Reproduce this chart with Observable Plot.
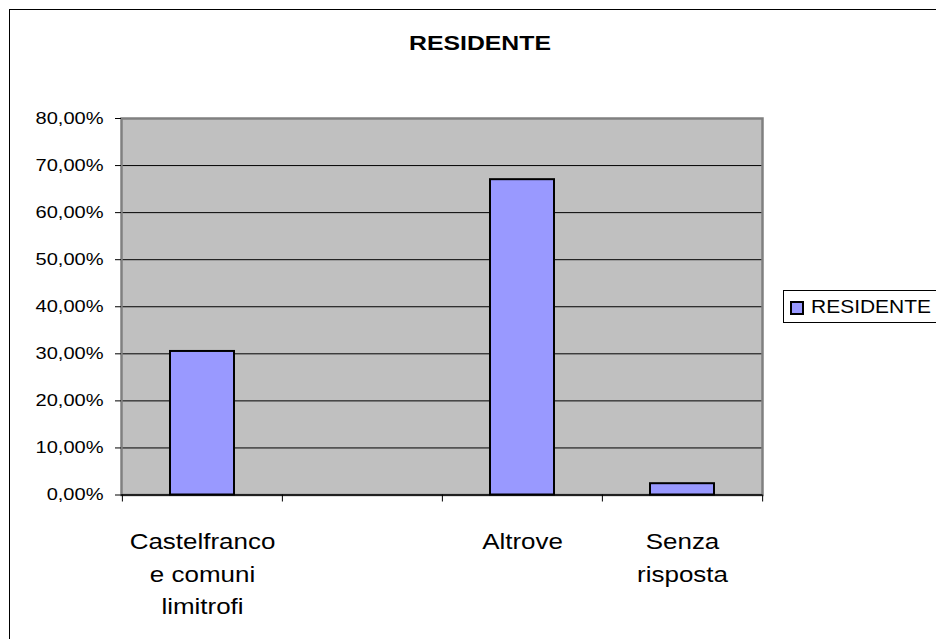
<!DOCTYPE html>
<html>
<head>
<meta charset="utf-8">
<script src="https://cdn.jsdelivr.net/npm/d3@7"></script>
<script src="https://cdn.jsdelivr.net/npm/@observablehq/plot@0.6"></script>
<style>
  html, body { margin: 0; padding: 0; background: #fff; overflow: hidden; }
  #wrap { position: relative; width: 936px; height: 639px; overflow: hidden; font-family: Arial, "Liberation Sans", sans-serif; }
  #border { position: absolute; left: 9px; top: 8.5px; width: 1200px; height: 1200px; border: 1.5px solid #000; box-sizing: border-box; }
  #chart { position: absolute; left: 0; top: 0; }
  #title { position: absolute; left: 479.7px; top: 31.5px; font-size: 21px; line-height: 21px; font-weight: bold; white-space: nowrap; transform: translateX(-50%) scaleX(1.18); color: #000; }
  #legend { position: absolute; left: 783px; top: 290px; width: 160px; height: 33px; border: 1px solid #000; box-sizing: border-box; background: #fff; }
  #legend .sw { position: absolute; left: 6px; top: 10px; width: 14px; height: 14px; background: #9999FF; border: 2px solid #000; box-sizing: border-box; }
  #legend .lb { position: absolute; left: 27px; top: 6px; font-size: 17.8px; line-height: 20px; white-space: nowrap; transform-origin: left center; transform: scaleX(1.18); color: #000; }
</style>
</head>
<body>
<div id="wrap">
  <div id="border"></div>
  <div id="chart"></div>
  <div id="title">RESIDENTE</div>
  <div id="legend"><div class="sw"></div><div class="lb">RESIDENTE</div></div>
</div>
<script>
// ---- data ----
const categories = ["Castelfranco\ne comuni\nlimitrofi", " ", "Altrove", "Senza\nrisposta"];
const values = [0.305, null, 0.67, 0.024];
const seriesName = "RESIDENTE";
const yTicks = [0, 0.1, 0.2, 0.3, 0.4, 0.5, 0.6, 0.7, 0.8];

const data = categories.map((c, i) => ({cat: c, value: values[i]})).filter(d => d.value != null);

const locale = d3.formatLocale({decimal: ",", thousands: ".", grouping: [3], currency: ["", "€"]});
const pct = locale.format(".2%");

const W = 936, H = 639;
const mL = 121, mR = 174, mT = 118, mB = 144.5;
const step = (W - mL - mR) / 4;

const chart = Plot.plot({
  width: W,
  height: H,
  marginLeft: mL,
  marginRight: mR,
  marginTop: mT,
  marginBottom: mB,
  style: {fontFamily: "Arial, 'Liberation Sans', sans-serif", background: "transparent", color: "#000"},
  x: {domain: categories, paddingInner: 0.6, paddingOuter: 0.3, axis: null, label: null},
  y: {domain: [0, 0.8], axis: null, label: null},
  marks: [
    Plot.frame({fill: "#C0C0C0", stroke: null}),
    Plot.gridY(yTicks, {stroke: "#000", strokeOpacity: 1, strokeWidth: 1}),
    Plot.frame({stroke: "#808080", strokeWidth: 2.5, fill: null}),
    Plot.barY(data, {x: "cat", y: "value", fill: "#9999FF", stroke: "#000", strokeWidth: 2, insetLeft: 0, insetRight: 0}),
    Plot.ruleY([0], {stroke: "#000", strokeWidth: 1.5}),
    Plot.axisY({ticks: yTicks, tickSize: 6, tickPadding: 12, tickFormat: pct, fontSize: 17, stroke: "#000", label: null}),
    Plot.axisX({tickSize: 7, tickFormat: () => "", dx: -step / 2, stroke: "#000", label: null}),
    Plot.axisX({ticks: [categories[categories.length - 1]], tickSize: 7, tickFormat: () => "", dx: step / 2, stroke: "#000", label: null}),
    Plot.axisX({tickSize: 0, tickPadding: 31, fontSize: 22, lineHeight: 1.48, label: null})
  ]
});

// horizontal stretch of the text to match the original rendering
chart.querySelectorAll("text").forEach(t => {
  const tr = t.getAttribute("transform");
  if (tr) t.setAttribute("transform", tr + " scale(1.18,1)");
  else {
    const x = +t.getAttribute("x") || 0, y = +t.getAttribute("y") || 0;
    t.setAttribute("transform", `translate(${x},${y}) scale(1.18,1) translate(${-x},${-y})`);
  }
});

document.getElementById("chart").appendChild(chart);
</script>
</body>
</html>
